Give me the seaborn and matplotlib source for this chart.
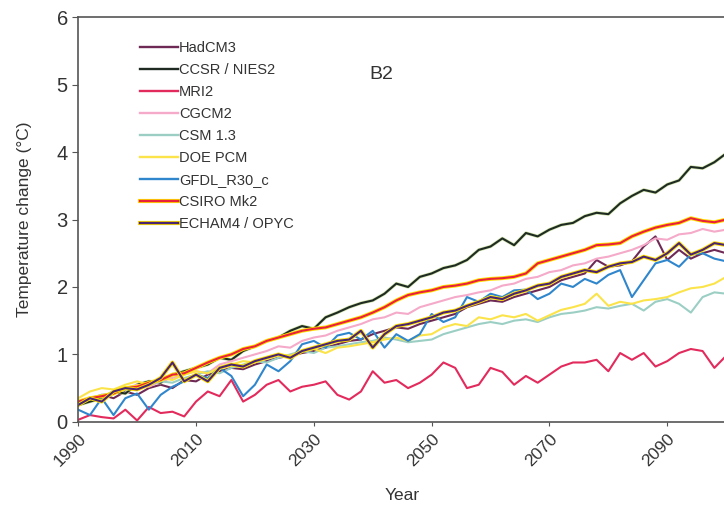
import matplotlib
matplotlib.use("Agg")
import matplotlib.pyplot as plt
import matplotlib.patheffects as pe
from matplotlib.lines import Line2D
import seaborn as sns
import pandas as pd

years = list(range(1990, 2101, 2))

hadcm3 = [0.25, 0.30, 0.40, 0.35, 0.45, 0.40, 0.50, 0.55, 0.50, 0.62, 0.60, 0.70, 0.75, 0.80,
          0.78, 0.85, 0.90, 0.95, 0.98, 1.02, 1.05, 1.10, 1.15, 1.20, 1.22, 1.30, 1.35, 1.40,
          1.38, 1.45, 1.50, 1.55, 1.60, 1.70, 1.75, 1.80, 1.78, 1.85, 1.90, 1.95, 2.00, 2.10,
          2.15, 2.20, 2.40, 2.30, 2.32, 2.38, 2.60, 2.75, 2.40, 2.55, 2.42, 2.50, 2.55, 2.50]
ccsr = [0.25, 0.30, 0.35, 0.45, 0.42, 0.55, 0.60, 0.58, 0.70, 0.75, 0.80, 0.85, 0.95, 0.92,
        1.05, 1.12, 1.20, 1.25, 1.35, 1.42, 1.38, 1.55, 1.62, 1.70, 1.76, 1.80, 1.90, 2.05,
        2.00, 2.15, 2.20, 2.28, 2.32, 2.40, 2.55, 2.60, 2.72, 2.62, 2.80, 2.75, 2.85, 2.92,
        2.95, 3.05, 3.10, 3.08, 3.24, 3.35, 3.44, 3.40, 3.52, 3.58, 3.78, 3.76, 3.85, 3.98]
mri2 = [0.03, 0.10, 0.07, 0.05, 0.18, 0.02, 0.22, 0.13, 0.15, 0.08, 0.30, 0.45, 0.38, 0.62,
        0.30, 0.40, 0.55, 0.62, 0.45, 0.52, 0.55, 0.60, 0.40, 0.33, 0.45, 0.75, 0.58, 0.62,
        0.50, 0.58, 0.70, 0.88, 0.80, 0.50, 0.55, 0.80, 0.74, 0.55, 0.68, 0.58, 0.70, 0.82,
        0.88, 0.88, 0.92, 0.75, 1.02, 0.92, 1.02, 0.82, 0.90, 1.02, 1.08, 1.05, 0.80, 0.98]
cgcm2 = [0.30, 0.35, 0.40, 0.42, 0.50, 0.55, 0.52, 0.60, 0.65, 0.70, 0.75, 0.72, 0.85, 0.90,
         0.95, 1.00, 1.05, 1.12, 1.10, 1.20, 1.25, 1.28, 1.35, 1.40, 1.45, 1.52, 1.55, 1.62,
         1.60, 1.70, 1.75, 1.80, 1.85, 1.88, 1.92, 1.95, 2.02, 2.05, 2.12, 2.15, 2.22, 2.25,
         2.32, 2.35, 2.42, 2.45, 2.50, 2.55, 2.62, 2.72, 2.70, 2.78, 2.80, 2.86, 2.82, 2.85]
csm13 = [0.30, 0.35, 0.40, 0.42, 0.48, 0.50, 0.55, 0.60, 0.58, 0.65, 0.70, 0.75, 0.72, 0.80,
         0.85, 0.90, 0.88, 0.95, 1.00, 1.05, 1.02, 1.10, 1.12, 1.15, 1.18, 1.20, 1.25, 1.22,
         1.18, 1.20, 1.22, 1.30, 1.35, 1.40, 1.45, 1.48, 1.45, 1.50, 1.52, 1.48, 1.55, 1.60,
         1.62, 1.65, 1.70, 1.68, 1.72, 1.75, 1.65, 1.78, 1.82, 1.75, 1.62, 1.85, 1.92, 1.90]
doepcm = [0.35, 0.45, 0.50, 0.48, 0.55, 0.60, 0.55, 0.65, 0.62, 0.70, 0.75, 0.72, 0.80, 0.85,
          0.90, 0.88, 0.95, 1.00, 0.98, 1.05, 1.08, 1.02, 1.10, 1.12, 1.15, 1.18, 1.22, 1.25,
          1.20, 1.28, 1.30, 1.40, 1.45, 1.42, 1.55, 1.52, 1.58, 1.55, 1.60, 1.50, 1.58, 1.66,
          1.70, 1.75, 1.90, 1.72, 1.78, 1.75, 1.80, 1.82, 1.85, 1.92, 1.98, 2.00, 2.05, 2.15]
gfdl = [0.18, 0.10, 0.35, 0.10, 0.35, 0.42, 0.18, 0.40, 0.52, 0.60, 0.70, 0.65, 0.80, 0.68,
        0.38, 0.55, 0.85, 0.75, 0.90, 1.15, 1.20, 1.10, 1.28, 1.32, 1.22, 1.35, 1.10, 1.30,
        1.20, 1.30, 1.60, 1.48, 1.55, 1.85, 1.78, 1.90, 1.85, 1.95, 1.96, 1.82, 1.90, 2.05,
        2.00, 2.12, 2.05, 2.18, 2.25, 1.85, 2.10, 2.35, 2.40, 2.30, 2.48, 2.50, 2.42, 2.38]
csiro = [0.30, 0.35, 0.38, 0.42, 0.50, 0.52, 0.58, 0.62, 0.70, 0.72, 0.80, 0.88, 0.95, 1.00,
         1.08, 1.12, 1.20, 1.25, 1.30, 1.35, 1.38, 1.40, 1.45, 1.50, 1.55, 1.62, 1.70, 1.80,
         1.88, 1.92, 1.95, 2.00, 2.02, 2.05, 2.10, 2.12, 2.13, 2.15, 2.20, 2.35, 2.40, 2.45,
         2.50, 2.55, 2.62, 2.63, 2.65, 2.75, 2.82, 2.88, 2.92, 2.95, 3.02, 2.98, 2.96, 3.00]
echam4 = [0.25, 0.35, 0.30, 0.45, 0.50, 0.48, 0.55, 0.65, 0.88, 0.60, 0.70, 0.60, 0.80, 0.85,
          0.82, 0.90, 0.95, 1.00, 0.95, 1.05, 1.10, 1.15, 1.20, 1.22, 1.35, 1.10, 1.30, 1.42,
          1.45, 1.50, 1.55, 1.62, 1.65, 1.72, 1.78, 1.85, 1.82, 1.90, 1.95, 2.02, 2.05, 2.15,
          2.20, 2.25, 2.22, 2.30, 2.35, 2.37, 2.45, 2.40, 2.50, 2.65, 2.48, 2.55, 2.65, 2.62]

models = ["HadCM3", "CCSR / NIES2", "MRI2", "CGCM2", "CSM 1.3", "DOE PCM",
          "GFDL_R30_c", "CSIRO Mk2", "ECHAM4 / OPYC"]
series = [hadcm3, ccsr, mri2, cgcm2, csm13, doepcm, gfdl, csiro, echam4]
colors = ["#6e2a55", "#1e2a22", "#e32a5c", "#f4aac8", "#9ccfc4", "#fbe34a",
          "#2f86cc", "#e8203a", "#4a2470"]
halos = {"CCSR / NIES2": "#cfe3a8", "CSIRO Mk2": "#ffe000", "ECHAM4 / OPYC": "#ffe000"}

df = pd.concat([pd.DataFrame({"Year": years, "Temp": s, "Model": m})
                for m, s in zip(models, series)], ignore_index=True)

plt.rcParams["font.family"] = ["Liberation Sans", "DejaVu Sans"]
fig = plt.figure(figsize=(7.24, 5.07), dpi=100)
ax = fig.add_axes([0.108, 0.168, 0.895, 0.798])

sns.lineplot(data=df, x="Year", y="Temp", hue="Model", hue_order=models,
             palette=dict(zip(models, colors)), linewidth=1.5, legend=False, ax=ax)

for line, m in zip(ax.get_lines(), models):
    if m in halos:
        w = 2.4 if m == "CCSR / NIES2" else 2.8
        line.set_path_effects([pe.Stroke(linewidth=w, foreground=halos[m]), pe.Normal()])

handles = []
for m, c in zip(models, colors):
    h = Line2D([], [], color=c, linewidth=1.7)
    if m in halos and m != "CCSR / NIES2":
        h.set_path_effects([pe.Stroke(linewidth=3.0, foreground=halos[m]), pe.Normal()])
    handles.append(h)
leg = ax.legend(handles, models, loc="upper left", bbox_to_anchor=(0.086, 0.955),
                frameon=False, fontsize=10.5, handlelength=2.6, handletextpad=0.1,
                labelspacing=0.55, borderaxespad=0)
for t in leg.get_texts():
    t.set_color("#333333")

ax.text(2041.5, 5.15, "B2", fontsize=14, color="#333333", ha="center", va="center")

ax.set_xlim(1990, 2100)
ax.set_ylim(0, 6)
ax.set_xticks(range(1990, 2100, 20))
ax.set_yticks(range(0, 7))
ax.tick_params(axis="y", labelsize=14.5, colors="#555555", labelcolor="#333333", length=4)
ax.tick_params(axis="x", labelsize=12.5, colors="#555555", labelcolor="#333333", length=3,
               labelrotation=45)
for lbl in ax.get_xticklabels():
    lbl.set_ha("right")
    lbl.set_rotation_mode("anchor")
ax.set_xlabel("Year", fontsize=12.5, color="#333333", labelpad=14)
ax.set_ylabel("Temperature change (\u00b0C)", fontsize=12.5, color="#333333", labelpad=18)
for side in ["left", "bottom", "top"]:
    ax.spines[side].set_color("#555555")
    ax.spines[side].set_linewidth(1.2)
ax.spines["right"].set_visible(False)

fig.savefig("out.png", dpi=100)
plt.close(fig)
